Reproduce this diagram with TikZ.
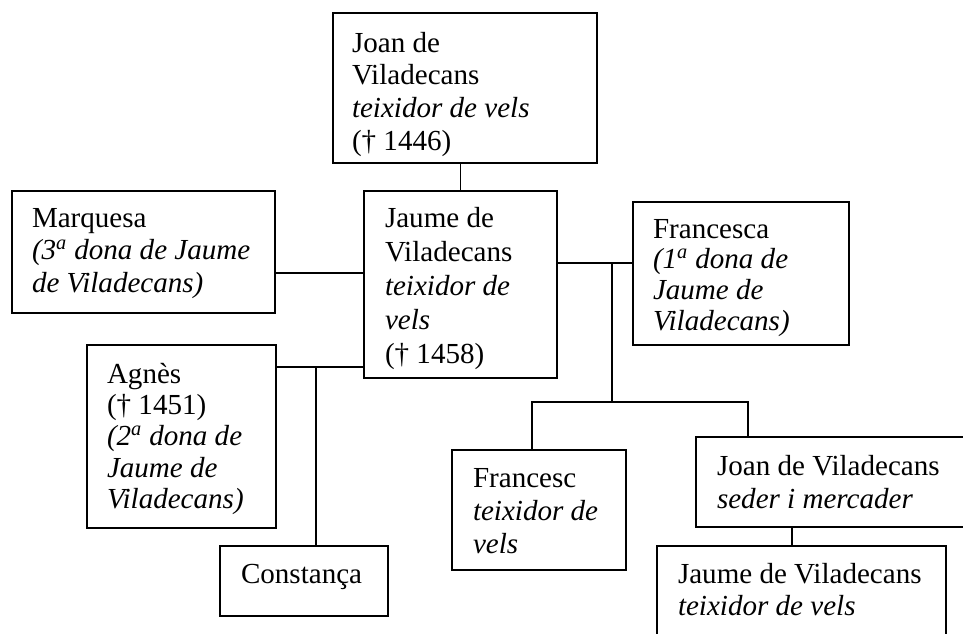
\documentclass[tikz,border=0pt]{standalone}
\usepackage{fontspec}
\setmainfont{Liberation Serif}
\newcommand\mkbox[5]{\node[box, minimum width={(#4-#2)*0.75pt}, minimum height={(#5-#3)*0.75pt}] (#1) at ({(#2+#4)/2},{(#3+#5)/2}) {};}
\newcommand\mktxt[5]{\node[txt, font=\fontsize{21.8pt}{#4pt}\selectfont] (#1) at (#2,{#3-0.7*#4/0.75}) {#5};}
\newcommand\sr{\strut}
\begin{document}
\begin{tikzpicture}[x=0.75pt,y=-0.75pt,
  box/.style={draw, line width=1.5pt, inner sep=0pt, outer sep=0pt},
  txt/.style={anchor=north west, inner sep=0pt, outer sep=0pt, align=left},
  conn/.style={line width=1.2pt}]
\useasboundingbox (0,0) rectangle (963,633);
\clip (0,0) rectangle (963,633);
% boxes
\mkbox{joan}{333}{13}{597}{163}
\mkbox{jaume}{364}{191}{557}{378}
\mkbox{marq}{12}{191}{275}{313}
\mkbox{franca}{633}{202}{849}{345}
\mkbox{agnes}{87}{345}{276}{528}
\mkbox{const}{220}{546}{388}{616}
\mkbox{fcesc}{452}{450}{626}{570}
\mkbox{joanb}{696}{437}{990}{527}
\mkbox{jaumeb}{657}{546}{946}{660}
% texts
\begin{scope}
\clip (joan.south west) rectangle (joan.north east);
\mktxt{tjoan}{352}{52}{24.5}{\sr Joan de\\\sr Viladecans\\\sr\textit{teixidor de vels}\\\sr († 1446)}
\end{scope}
\mktxt{tjaume}{385}{227}{25.5}{\sr Jaume de\\\sr Viladecans\\\sr\textit{teixidor de}\\\sr\textit{vels}\\\sr († 1458)}
\mktxt{tmarq}{32}{227}{24.4}{\sr Marquesa\\\sr\textit{(3\textsuperscript{a} dona de Jaume}\\\sr\textit{de Viladecans)}}
\mktxt{tfranca}{653}{238}{23}{\sr Francesca\\\sr\textit{(1\textsuperscript{a} dona de}\\\sr\textit{Jaume de}\\\sr\textit{Viladecans)}}
\mktxt{tagnes}{107}{383}{23.5}{\sr Agnès\\\sr († 1451)\\\sr\textit{(2\textsuperscript{a} dona de}\\\sr\textit{Jaume de}\\\sr\textit{Viladecans)}}
\mktxt{tconst}{241}{583}{24}{\sr Constança}
\mktxt{tfcesc}{473}{487}{25}{\sr Francesc\\\sr\textit{teixidor de}\\\sr\textit{vels}}
\mktxt{tjoanb}{717}{475}{24.75}{\sr Joan de Viladecans\\\sr\textit{seder i mercader}}
\mktxt{tjaumeb}{678}{583}{24}{\sr Jaume de Viladecans\\\sr\textit{teixidor de vels}}
% junction coordinates
\coordinate (mq) at (300,273);
\coordinate (ag) at (316,367);
\coordinate (fr) at (612,263);
\coordinate (kids) at (612,402);
\coordinate (kl) at (532,402);
\coordinate (kr) at (748,402);
\coordinate (jj) at (792,500);
% connectors
\draw[conn] (jaume.north) -- (jaume.north |- joan.south);
\draw[conn] (marq.east |- mq) -- (jaume.west |- mq);
\draw[conn] (agnes.east |- ag) -- (jaume.west |- ag);
\draw[conn] (ag) -- (ag |- const.north);
\draw[conn] (jaume.east |- fr) -- (franca.west |- fr);
\draw[conn] (fr) -- (kids);
\draw[conn] (kl |- fcesc.north) -- (kl) -- (kr) -- (kr |- joanb.north);
\draw[conn] (jj |- joanb.south) -- (jj |- jaumeb.north);
\end{tikzpicture}
\end{document}
